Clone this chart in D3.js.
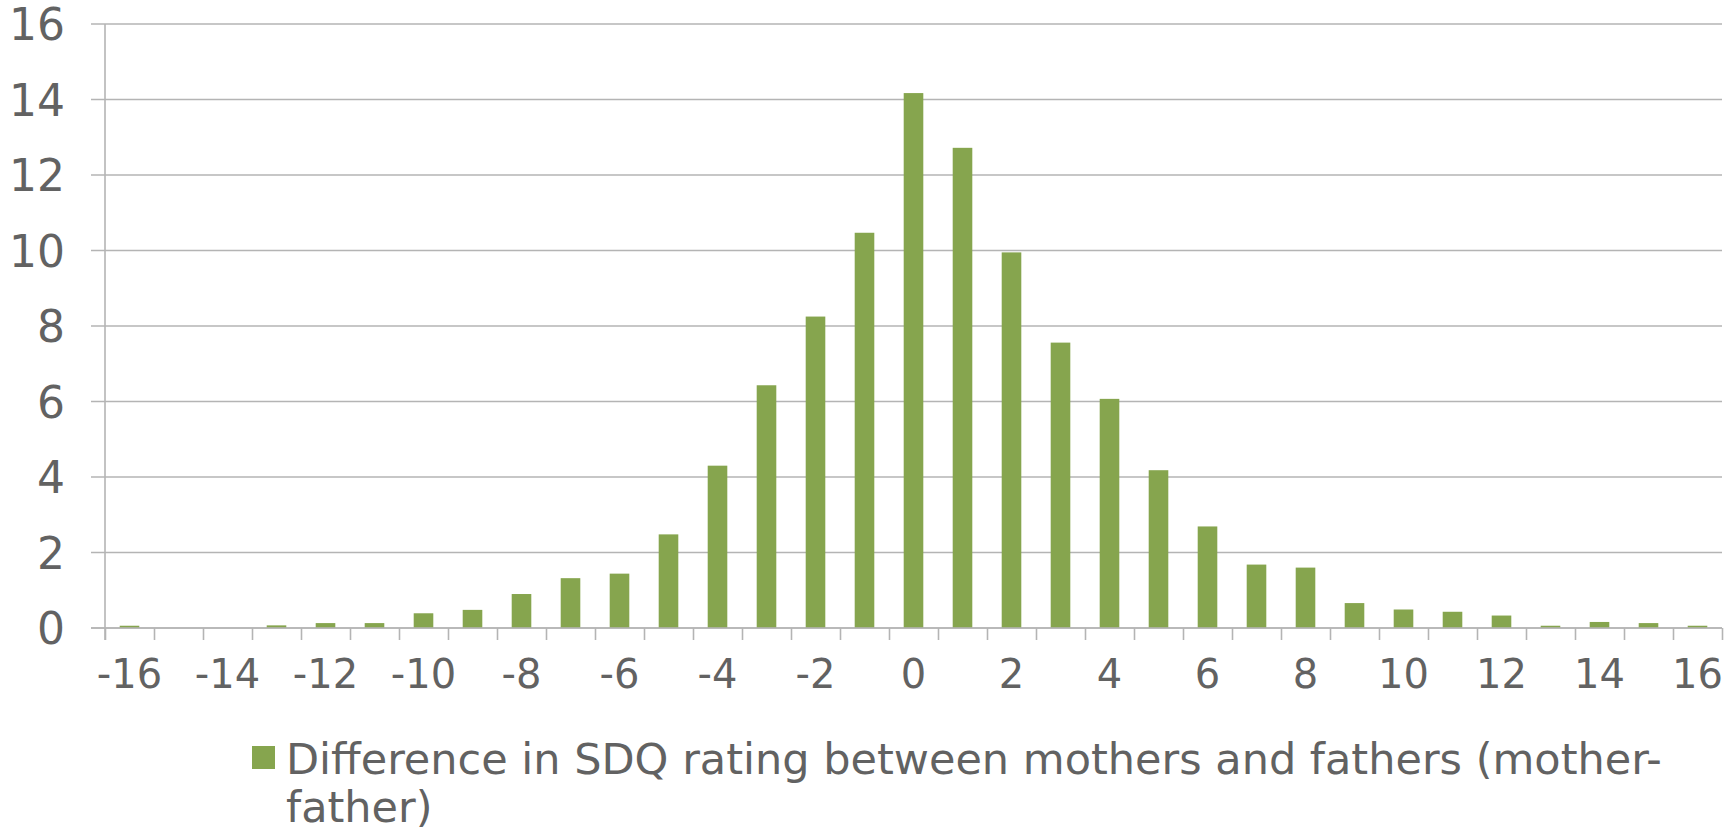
<!DOCTYPE html>
<html>
<head>
<meta charset="utf-8">
<script src="https://cdn.jsdelivr.net/npm/d3@7"></script>
<style>
  body { margin: 0; background: #fff; }
  text { font-family: "DejaVu Sans", Verdana, sans-serif; fill: #626262; }
</style>
</head>
<body>
<svg id="chart"></svg>
<script>
const W = 1733, H = 832;

// difference scores (mother - father) and share of pairs, %
var diffs = [-16,-15,-14,-13,-12,-11,-10,-9,-8,-7,-6,-5,-4,-3,-2,-1,0,1,2,3,4,5,6,7,8,9,10,11,12,13,14,15,16];
var percents = [0.06,0,0,0.07,0.13,0.13,0.39,0.48,0.9,1.32,1.44,2.48,4.3,6.43,8.25,10.47,14.17,12.72,9.95,7.56,6.07,4.18,2.69,1.68,1.6,0.66,0.49,0.43,0.33,0.06,0.16,0.13,0.06];
var yTicks = [0,2,4,6,8,10,12,14,16];
var xLabels = [-16,-14,-12,-10,-8,-6,-4,-2,0,2,4,6,8,10,12,14,16];
var legendLines = ["Difference in SDQ rating between mothers and fathers (mother-", "father)"];

const LEFT = 105, RIGHT = 1722, TOP = 24, BOTTOM = 628;
const GRID = "#b4b4b4";
const GREEN = "#86a54e";

var svg = d3.select('#chart')
    .attr('width', W)
    .attr('height', H);

var x = d3.scaleBand()
    .domain(diffs)
    .range([LEFT, RIGHT])
    .paddingInner(0.6)
    .paddingOuter(0.3);

// boundaries between categories, for the tick marks
var xEdge = d3.scaleLinear()
    .domain([-16.5, 16.5])
    .range([LEFT, RIGHT]);

var y = d3.scaleLinear()
    .domain([0, 16])
    .range([BOTTOM, TOP]);

// gridlines
svg.append("g").selectAll("line").data(yTicks).enter().append("line")
    .attr("x1", LEFT - 14)
    .attr("x2", RIGHT)
    .attr("y1", function(d){ return y(d); })
    .attr("y2", function(d){ return y(d); })
    .style("stroke", GRID)
    .style("stroke-width", 1.6);

// y axis labels
var yAxis = svg.append("g")
    .attr("transform", "translate(" + LEFT + ",0)")
    .call(d3.axisLeft(y).tickValues(yTicks).tickSize(14).tickPadding(26));
yAxis.select(".domain").remove();
yAxis.selectAll("line").remove();
yAxis.selectAll("text")
    .attr("dy", "0.36em")
    .style("font-size", "44px")
    .style("font-family", null)
    .attr("fill", null);

// y axis line
svg.append("line")
    .attr("x1", LEFT).attr("x2", LEFT)
    .attr("y1", y(16)).attr("y2", BOTTOM + 12)
    .style("stroke", GRID)
    .style("stroke-width", 1.6);

// tick marks at category boundaries
var edges = d3.range(-16.5, 17, 1);
var xTickAxis = svg.append("g")
    .attr("transform", "translate(0," + BOTTOM + ")")
    .call(d3.axisBottom(xEdge).tickValues(edges).tickSize(12).tickFormat(""));
xTickAxis.select(".domain").remove();
xTickAxis.selectAll("line")
    .style("stroke", GRID)
    .style("stroke-width", 1.6);

// bars
svg.append("g").selectAll("rect").data(diffs).enter().append("rect")
    .attr("x", function(d){ return x(d); })
    .attr("width", x.bandwidth())
    .attr("y", function(d, i){ return y(percents[i]); })
    .attr("height", function(d, i){ return BOTTOM - y(percents[i]); })
    .style("fill", GREEN);

// x axis line (over the bars)
svg.append("line")
    .attr("x1", LEFT - 14).attr("x2", RIGHT)
    .attr("y1", BOTTOM).attr("y2", BOTTOM)
    .style("stroke", GRID)
    .style("stroke-width", 1.6);

// x labels, every other category
var xAxis = svg.append("g")
    .attr("transform", "translate(0," + BOTTOM + ")")
    .call(d3.axisBottom(x).tickValues(xLabels).tickSize(0).tickPadding(32));
xAxis.select(".domain").remove();
xAxis.selectAll("text")
    .attr("dy", "0.71em")
    .style("font-size", "40px")
    .style("font-family", null)
    .attr("fill", null);

// legend
svg.append("rect")
    .attr("x", 252)
    .attr("y", 746)
    .attr("width", 23)
    .attr("height", 23)
    .style("fill", GREEN);

svg.append("g").selectAll("text").data(legendLines).enter().append("text")
    .attr("x", 286)
    .attr("y", function(d, i){ return 774 + i * 48; })
    .style("font-size", "43px")
    .text(function(d){ return d; });
</script>
</body>
</html>
